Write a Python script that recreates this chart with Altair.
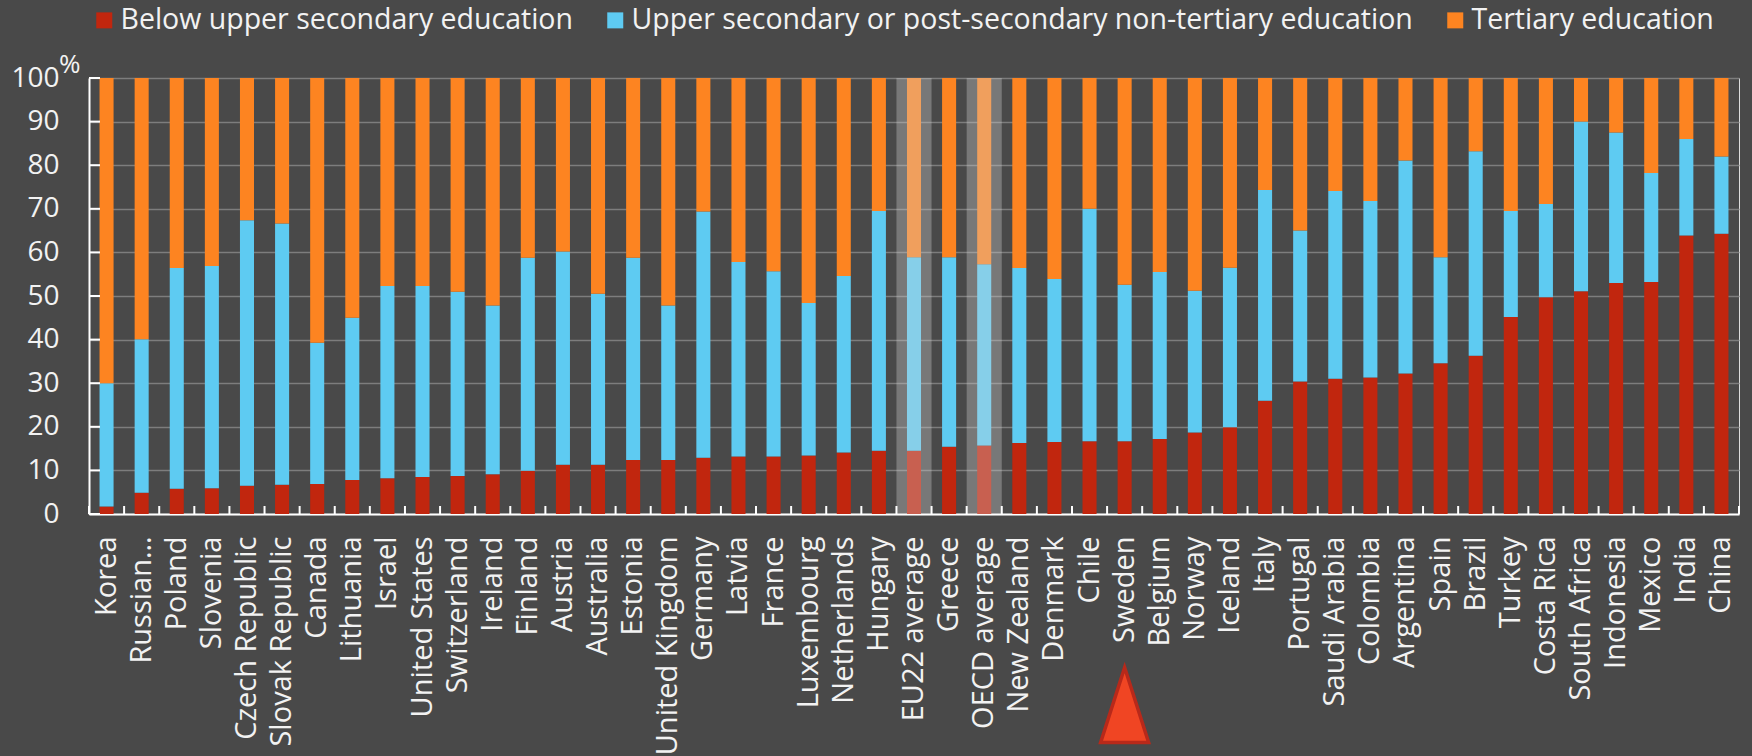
import altair as alt
import pandas as pd

# Share of 25-64 year-olds by educational attainment (%)
countries = [
    "Korea", "Russian…", "Poland", "Slovenia", "Czech Republic", "Slovak Republic",
    "Canada", "Lithuania", "Israel", "United States", "Switzerland", "Ireland",
    "Finland", "Austria", "Australia", "Estonia", "United Kingdom", "Germany",
    "Latvia", "France", "Luxembourg", "Netherlands", "Hungary", "EU22  average",
    "Greece", "OECD  average", "New Zealand", "Denmark", "Chile", "Sweden",
    "Belgium", "Norway", "Iceland", "Italy", "Portugal", "Saudi Arabia",
    "Colombia", "Argentina", "Spain", "Brazil", "Turkey", "Costa Rica",
    "South Africa", "Indonesia", "Mexico", "India", "China",
]
below_upper_secondary = [
    1.7, 4.9, 5.8, 5.9, 6.5, 6.7, 6.9, 7.8, 8.2, 8.5, 8.7, 9.1,
    9.9, 11.3, 11.3, 12.4, 12.4, 12.9, 13.2, 13.2, 13.4, 14.1, 14.5, 14.5,
    15.4, 15.7, 16.3, 16.5, 16.7, 16.7, 17.2, 18.7, 19.9, 26.0, 30.4, 31.0,
    31.3, 32.2, 34.6, 36.3, 45.2, 49.7, 51.1, 53.0, 53.2, 63.9, 64.3,
]
upper_secondary = [
    28.3, 35.2, 50.6, 51.0, 60.9, 59.9, 32.4, 37.2, 44.1, 43.8, 42.3, 38.7,
    48.9, 48.9, 39.2, 46.4, 35.4, 56.5, 44.6, 42.5, 35.0, 40.5, 55.0, 44.4,
    43.5, 41.6, 40.1, 37.4, 53.3, 35.9, 38.3, 32.5, 36.6, 48.3, 34.6, 43.1,
    40.5, 48.9, 24.3, 46.9, 24.3, 21.4, 38.9, 34.5, 25.0, 22.1, 17.7,
]
tertiary = [
    70.0, 59.9, 43.6, 43.1, 32.6, 33.4, 60.7, 55.0, 47.7, 47.7, 49.0, 52.2,
    41.2, 39.8, 49.5, 41.2, 52.2, 30.6, 42.2, 44.3, 51.6, 45.4, 30.5, 41.1,
    41.1, 42.7, 43.6, 46.1, 30.0, 47.4, 44.5, 48.8, 43.5, 25.7, 35.0, 25.9,
    28.2, 18.9, 41.1, 16.8, 30.5, 28.9, 10.0, 12.5, 21.8, 14.0, 18.0,
]
levels = [
    "Below upper secondary education",
    "Upper secondary or post-secondary non-tertiary education",
    "Tertiary education",
]
level_colors = ["#c1260e", "#5ecbf2", "#fd8421"]
averages = ["EU22  average", "OECD  average"]
marked_country = ["Sweden"]
y_ticks = [0, 10, 20, 30, 40, 50, 60, 70, 80, 90, 100]

FONT = "Open Sans"
TEXT = "#f2f2f2"
PLOT_W, PLOT_H = 1650, 436
STEP = PLOT_W / len(countries)

rows = []
for i, c in enumerate(countries):
    for k, (lvl, vals) in enumerate(zip(levels, [below_upper_secondary, upper_secondary, tertiary])):
        rows.append({"country": c, "level": lvl, "order": k, "value": vals[i]})
long_df = pd.DataFrame(rows)

x_enc = alt.X(
    "country:N",
    sort=countries,
    scale=alt.Scale(paddingInner=0.6, paddingOuter=0.3),
    axis=alt.Axis(
        title=None, labelAngle=-90, labelAlign="right", labelBaseline="middle",
        labelFontSize=29, labelColor=TEXT, labelFont=FONT, labelPadding=22,
        labelOverlap=False, labelLimit=400, ticks=False, tickSize=0,
        domainColor="#ffffff", domainWidth=2, grid=False,
    ),
)

bars = alt.Chart(long_df).mark_bar().encode(
    x=x_enc,
    y=alt.Y(
        "value:Q",
        stack="zero",
        scale=alt.Scale(domain=[0, 100], nice=False),
        axis=alt.Axis(
            title=None, values=y_ticks, labelFontSize=28, labelColor=TEXT,
            labelFont=FONT, labelPadding=30, ticks=False, tickSize=0,
            domainColor="#ffffff", domainWidth=2, gridColor="#7d7d7d",
            gridWidth=1.5,
        ),
    ),
    color=alt.Color(
        "level:N",
        scale=alt.Scale(domain=levels, range=level_colors),
        legend=alt.Legend(
            title=None, orient="none", legendX=1, legendY=-72,
            direction="horizontal", symbolType="square", symbolSize=256,
            symbolStrokeWidth=0, labelFontSize=28.5, labelColor=TEXT,
            labelFont=FONT, labelOffset=2, labelLimit=1200,
            columnPadding=28, padding=0,
        ),
    ),
    order=alt.Order("order:Q"),
)

# Lighter band over the two averages
avg_df = pd.DataFrame({"country": averages})
highlight = alt.Chart(avg_df).mark_rule(
    strokeWidth=STEP, color="#d7d7d7", opacity=0.33
).encode(
    x=alt.X("country:N", sort=countries),
    y=alt.datum(0),
    y2=alt.datum(100),
)

# Inward ticks on the y axis
ytick_df = pd.DataFrame({"v": y_ticks})
y_inner_ticks = alt.Chart(ytick_df).mark_rule(color="#ffffff", strokeWidth=2).encode(
    y=alt.Y("v:Q"),
    x=alt.value(0),
    x2=alt.value(11),
)

# Inward ticks between categories on the x axis
cat_df = pd.DataFrame({"country": countries})
x_inner_ticks = alt.Chart(cat_df).mark_rule(
    color="#ffffff", strokeWidth=2, xOffset=-STEP / 2
).encode(
    x=alt.X("country:N", sort=countries),
    y=alt.value(PLOT_H),
    y2=alt.value(PLOT_H - 8),
)
last_df = pd.DataFrame({"country": countries[-1:]})
x_end_tick = alt.Chart(last_df).mark_rule(
    color="#ffffff", strokeWidth=2, xOffset=STEP / 2
).encode(
    x=alt.X("country:N", sort=countries),
    y=alt.value(PLOT_H),
    y2=alt.value(PLOT_H - 8),
)

# Percent sign next to the top y label
pct_df = pd.DataFrame({"sym": ["%"]})
pct = alt.Chart(pct_df).mark_text(
    align="left", baseline="middle", fontSize=26, font=FONT, color=TEXT
).encode(
    text="sym:N",
    x=alt.value(-30),
    y=alt.value(-13),
)

# Arrow marker under the highlighted country
mark_df = pd.DataFrame({"country": marked_country})
marker = alt.Chart(mark_df).mark_point(
    shape="M0,-1L0.64,1L-0.64,1Z", size=5625, filled=True,
    fill="#f04523", stroke="#b8291a", strokeWidth=3.5, opacity=1,
).encode(
    x=alt.X("country:N", sort=countries),
    y=alt.value(627),
)

chart = alt.layer(
    bars, highlight, y_inner_ticks, x_inner_ticks, x_end_tick, pct, marker
).properties(
    width=PLOT_W,
    height=PLOT_H,
    background="#494949",
    padding={"left": 89, "top": 78, "right": 13, "bottom": 242},
    autosize=alt.AutoSizeParams(type="none"),
).configure_view(
    fill="#4f4f4f", stroke=None
).configure(font=FONT)

chart.save("out.html", embed_options={"renderer": "svg", "actions": False})
